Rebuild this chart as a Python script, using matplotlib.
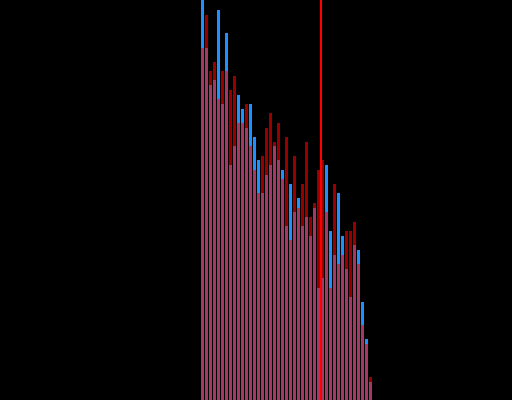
import numpy as np
import matplotlib
matplotlib.use("Agg")
import matplotlib.pyplot as plt

# histogram counts per bin
bins = np.arange(43)
counts_a = [105, 88, 78.75, 80, 97.5, 74, 91.75, 58.75, 63.5, 76.25,
            72.75, 68, 74, 65.75, 60, 51.75, 56.25, 58.75, 63.5, 60,
            57.5, 43.5, 54, 47, 50.5, 43.5, 45.75, 41, 48, 28,
            30.5, 58.75, 42.25, 36.25, 51.75, 41, 32.75, 25.75, 38.75, 37.5,
            24.5, 15.25, 4.5]
counts_b = [88, 96.25, 82.25, 84.5, 75.25, 82.25, 82.25, 77.5, 81, 69.25,
            69.25, 74, 63.5, 57.5, 51.75, 61, 68, 71.75, 64.5, 69.25,
            55.25, 65.75, 40, 61, 48, 54, 64.5, 45.75, 49.25, 57.5,
            60, 47, 28, 54, 34, 36.25, 42.25, 42.25, 44.5, 34,
            18.75, 14, 5.75]
marker_x = 30.0

fig = plt.figure(figsize=(5.12, 4.0), dpi=100, facecolor="black")
ax = fig.add_axes([0, 0, 1, 1])
ax.set_facecolor("black")

ax.bar(bins, counts_a, width=0.76, align="edge", color="#1e90ff", linewidth=0)
ax.bar(bins, counts_b, width=0.76, align="edge", color="#ff0000", alpha=0.6, linewidth=0)
ax.axvline(marker_x, color="#ff0000", linewidth=1.5)

ax.set_xlim(-50.25, 77.75)
ax.set_ylim(0, 100)
ax.axis("off")

fig.savefig("out.png", dpi=100, facecolor="black")
